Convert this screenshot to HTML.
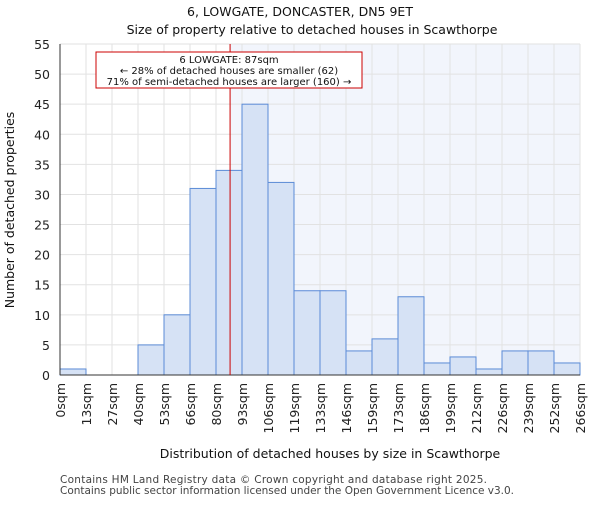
<!DOCTYPE html>
<html><head><meta charset="utf-8"><style>body{margin:0;background:#fff}svg text{font-family:"DejaVu Sans","Liberation Sans",sans-serif}</style></head>
<body>
<svg id="c" width="600" height="500" xmlns="http://www.w3.org/2000/svg"></svg>
<script>
const binLabels=["0sqm","13sqm","27sqm","40sqm","53sqm","66sqm","80sqm","93sqm","106sqm","119sqm","133sqm","146sqm","159sqm","173sqm","186sqm","199sqm","212sqm","226sqm","239sqm","252sqm","266sqm"];
const binEdges=[0,13.3,26.6,39.9,53.2,66.5,79.8,93.1,106.4,119.7,133,146.3,159.6,172.9,186.2,199.5,212.8,226.1,239.4,252.7,266];
const counts=[1,0,0,5,10,31,34,45,32,14,14,4,6,13,2,3,1,4,4,2];
const yTicks=[0,5,10,15,20,25,30,35,40,45,50,55];
const marker=87;
const NS="http://www.w3.org/2000/svg",svg=document.getElementById('c');
const L=60,R=580,T=44,B=375;
const x=v=>L+(v-binEdges[0])/(binEdges[binEdges.length-1]-binEdges[0])*(R-L);
const y=v=>B-v/55*(B-T);
function mk(t,a,p){const e=document.createElementNS(NS,t);for(const k in a)e.setAttribute(k,a[k]);(p||svg).appendChild(e);return e;}
mk('rect',{x:x(marker),y:T,width:R-x(marker),height:B-T,fill:'#f2f5fc'});
yTicks.forEach(v=>{const g=mk('line',{x1:L,x2:R,y1:y(v),y2:y(v),stroke:'#e2e2e2'});

const t=mk('text',{x:L-10,y:y(v)+5,'text-anchor':'end','font-size':12.5,fill:'#222'});t.textContent=v;
});
binEdges.forEach((v,i)=>{mk('line',{x1:x(v),x2:x(v),y1:T,y2:B,stroke:'#e2e2e2'});
const t=mk('text',{transform:`translate(${x(v)+5},${B+8}) rotate(-90)`,'text-anchor':'end','font-size':12.5,fill:'#222'});t.textContent=binLabels[i];
});
counts.forEach((c,i)=>{if(!c)return;const r=mk('rect',{x:x(binEdges[i]),y:y(c),width:x(binEdges[i+1])-x(binEdges[i]),height:B-y(c),fill:'#d6e2f5',stroke:'#5b8bd6','stroke-width':1});
});
mk('line',{x1:L,x2:L,y1:T,y2:B,stroke:'#333'});mk('line',{x1:L,x2:R,y1:B,y2:B,stroke:'#333'});
const ml=mk('line',{x1:x(marker),x2:x(marker),y1:T,y2:B,stroke:'#cc0000','stroke-width':1});

</script>
<svg width="600" height="500" style="position:absolute;left:0;top:0" xmlns="http://www.w3.org/2000/svg">
<g>
<rect x="96" y="52" width="266" height="36" fill="#fff" stroke="#cc0000"/>
<text x="229" y="63" text-anchor="middle" font-size="10" fill="#111">6 LOWGATE: 87sqm</text>
<text x="229" y="74" text-anchor="middle" font-size="10" fill="#111">← 28% of detached houses are smaller (62)</text>
<text x="229" y="85" text-anchor="middle" font-size="10" fill="#111">71% of semi-detached houses are larger (160) →</text>
</g>
<text x="300" y="16" text-anchor="middle" font-size="12.5" fill="#111">6, LOWGATE, DONCASTER, DN5 9ET</text>
<text x="312" y="34" text-anchor="middle" font-size="12.5" fill="#111">Size of property relative to detached houses in Scawthorpe</text>
<text x="330" y="458" text-anchor="middle" font-size="12.5" fill="#111">Distribution of detached houses by size in Scawthorpe</text>
<text transform="translate(14,210) rotate(-90)" text-anchor="middle" font-size="12.5" fill="#111">Number of detached properties</text>
<text x="60" y="483" font-size="10.5" fill="#444" textLength="427">Contains HM Land Registry data © Crown copyright and database right 2025.</text>
<text x="60" y="494" font-size="10.5" fill="#444" textLength="454">Contains public sector information licensed under the Open Government Licence v3.0.</text>
</svg>
</body></html>
